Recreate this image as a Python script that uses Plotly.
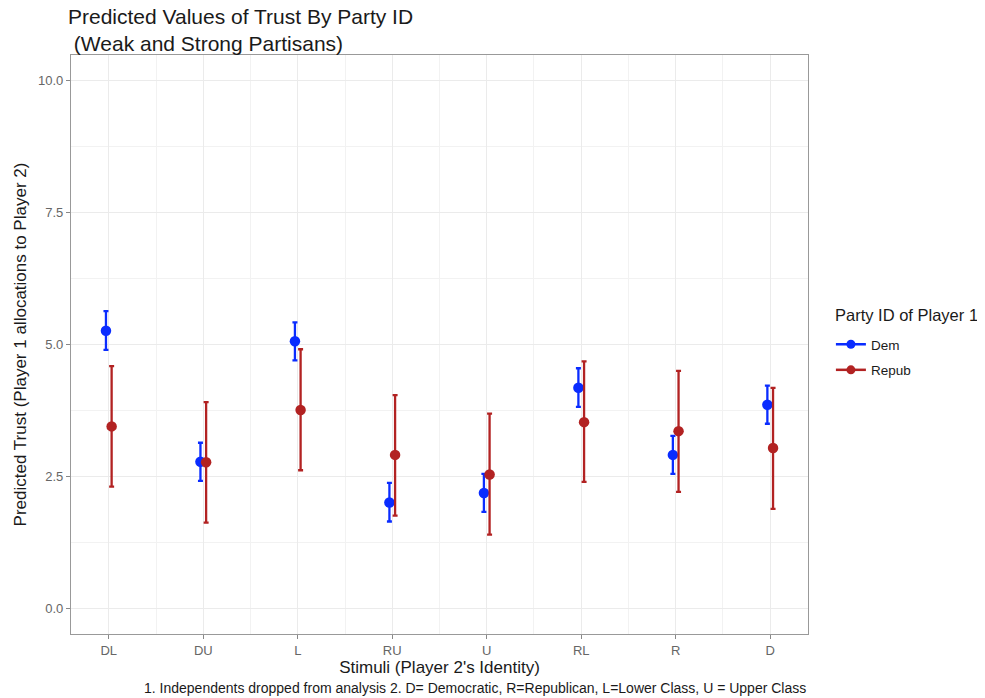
import numpy as np
import plotly.graph_objects as go

categories = ["DL", "DU", "L", "RU", "U", "RL", "R", "D"]

dem_fit = [5.26, 2.78, 5.06, 2.01, 2.19, 4.18, 2.91, 3.86]
dem_upper = [5.63, 3.14, 5.42, 2.38, 2.55, 4.55, 3.27, 4.22]
dem_lower = [4.90, 2.42, 4.70, 1.65, 1.83, 3.82, 2.55, 3.50]

rep_fit = [3.45, 2.77, 3.76, 2.91, 2.54, 3.53, 3.36, 3.04]
rep_upper = [4.59, 3.91, 4.91, 4.04, 3.69, 4.68, 4.50, 4.18]
rep_lower = [2.31, 1.63, 2.62, 1.76, 1.40, 2.40, 2.21, 1.89]

y_ticks = [0.0, 2.5, 5.0, 7.5, 10.0]

idx = np.arange(len(categories))
dodge = 0.03

# page has an 8px body margin; figure placed so the plot lands where the reference has it
W, H = 985, 690
ML, MT, MR, MB = 60, 47, 185, 64
PW = W - ML - MR
PH = H - MT - MB

fig = go.Figure()

series = [
    ("Dem", dem_fit, dem_upper, dem_lower, "#0a2cff", -dodge),
    ("Repub", rep_fit, rep_upper, rep_lower, "#b22222", dodge),
]
for name, fit, up, lo, color, off in series:
    fit = np.array(fit)
    fig.add_trace(go.Scatter(
        x=idx + off, y=fit, name=name, mode="markers", showlegend=False,
        marker=dict(color=color, size=10.5),
        error_y=dict(type="data", symmetric=False,
                     array=np.array(up) - fit, arrayminus=fit - np.array(lo),
                     color=color, thickness=2.3, width=2.5),
    ))
    # legend key: line with point, like a pointrange key
    fig.add_trace(go.Scatter(
        x=[None], y=[None], name=name, mode="lines+markers", legendgroup=name,
        marker=dict(color=color, size=9), line=dict(color=color, width=2.5),
    ))

font = "Liberation Sans, Arial, sans-serif"
fig.update_layout(
    width=W, height=H,
    paper_bgcolor="white", plot_bgcolor="white",
    margin=dict(l=ML, r=MR, t=MT, b=MB),
    font=dict(family=font, color="#1a1a1a"),
    title=dict(text="Predicted Values of Trust By Party ID<br> (Weak and Strong Partisans)",
               xref="container", x=60 / W, xanchor="left",
               yref="container", y=1 - 16 / H, yanchor="top",
               font=dict(size=21, color="#1a1a1a")),
    legend=dict(x=1 + 23 / PW, xanchor="left", y=1 - (321 - MT) / PH, yanchor="top",
                font=dict(size=13.5), tracegroupgap=5),
    showlegend=True,
)

fig.add_annotation(
    text="Party ID of Player 1", xref="paper", yref="paper",
    x=1 + 25 / PW, xanchor="left", y=1 - (307 - MT) / PH, yanchor="middle",
    showarrow=False, font=dict(size=16.5, color="#1a1a1a"),
)

fig.update_xaxes(
    range=[-0.4, len(categories) - 1 + 0.4],
    tickvals=idx, ticktext=categories,
    ticks="outside", ticklen=4, tickcolor="#888888",
    tickfont=dict(size=13, color="#666666"),
    showline=True, linecolor="#999999", linewidth=1.3, mirror=True,
    showgrid=True, gridcolor="#ebebeb", gridwidth=1.2,
    minor=dict(tick0=0.5, dtick=1, showgrid=True, gridcolor="#f2f2f2", gridwidth=0.8),
    zeroline=False,
    title=dict(text="Stimuli (Player 2's Identity)", font=dict(size=17), standoff=3),
)
fig.update_yaxes(
    range=[-0.48, 10.48],
    tickvals=y_ticks, ticktext=[f"{v:.1f}" for v in y_ticks],
    ticks="outside", ticklen=4, tickcolor="#888888",
    tickfont=dict(size=13, color="#666666"),
    showline=True, linecolor="#999999", linewidth=1.3, mirror=True,
    showgrid=True, gridcolor="#ebebeb", gridwidth=1.2,
    minor=dict(tick0=1.25, dtick=2.5, showgrid=True, gridcolor="#f2f2f2", gridwidth=0.8),
    zeroline=False,
    title=dict(text="Predicted Trust (Player 1 allocations to Player 2)", font=dict(size=17), standoff=6),
)

fig.add_annotation(
    text="1. Independents dropped from analysis 2. D= Democratic, R=Republican, L=Lower Class, U = Upper Class",
    xref="paper", yref="paper", x=1.0, y=-(680 - (H - MB)) / PH, xanchor="right", yanchor="middle",
    showarrow=False, font=dict(size=14, color="#1a1a1a"),
)

fig.write_html("out.html")
